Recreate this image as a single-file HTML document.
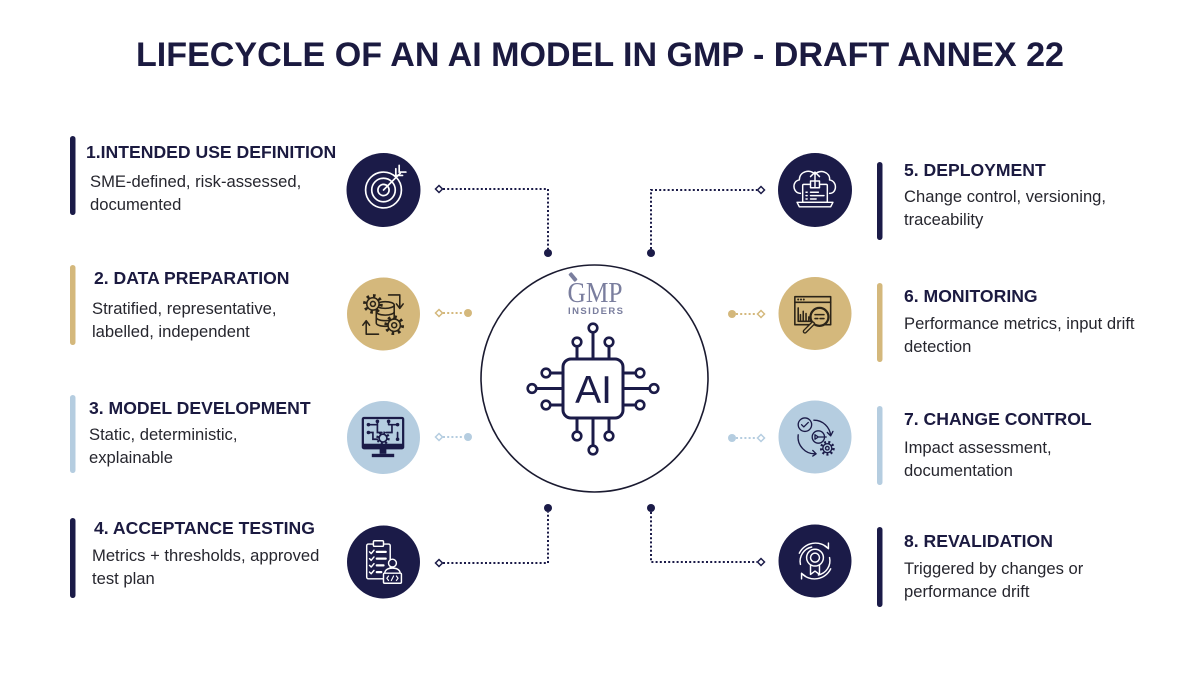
<!DOCTYPE html>
<html><head><meta charset="utf-8"><style>
html,body{margin:0;padding:0;background:#fff;}
svg{display:block;}
text{font-family:"Liberation Sans",Arial,sans-serif;}
</style></head><body>
<svg width="1200" height="675" viewBox="0 0 1200 675" xmlns="http://www.w3.org/2000/svg">
<rect width="1200" height="675" fill="#fff"/>
<text x="600" y="66" text-anchor="middle" font-size="34" font-weight="bold" fill="#1b1a40" textLength="928" lengthAdjust="spacingAndGlyphs">LIFECYCLE OF AN AI MODEL IN GMP - DRAFT ANNEX 22</text>

<!-- Left bars -->
<rect x="70" y="136" width="5.5" height="79" rx="2.75" fill="#1b1b48"/>
<rect x="70" y="265" width="5.5" height="80" rx="2.75" fill="#d4b87c"/>
<rect x="70" y="395" width="5.5" height="78" rx="2.75" fill="#b5cde0"/>
<rect x="70" y="518" width="5.5" height="80" rx="2.75" fill="#1b1b48"/>
<!-- Right bars -->
<rect x="877" y="162" width="5.5" height="78" rx="2.75" fill="#1b1b48"/>
<rect x="877" y="283" width="5.5" height="79" rx="2.75" fill="#d4b87c"/>
<rect x="877" y="406" width="5.5" height="79" rx="2.75" fill="#b5cde0"/>
<rect x="877" y="527" width="5.5" height="80" rx="2.75" fill="#1b1b48"/>

<!-- Texts -->
<g font-size="17.6" font-weight="bold" fill="#1b1a40">
<text x="86" y="158">1.INTENDED USE DEFINITION</text>
<text x="94" y="284">2. DATA PREPARATION</text>
<text x="89" y="414">3. MODEL DEVELOPMENT</text>
<text x="94" y="534">4. ACCEPTANCE TESTING</text>
<text x="904" y="176">5. DEPLOYMENT</text>
<text x="904" y="302">6. MONITORING</text>
<text x="904" y="425">7. CHANGE CONTROL</text>
<text x="904" y="547">8. REVALIDATION</text>
</g>
<g font-size="16.6" fill="#26262e">
<text x="90" y="187">SME-defined, risk-assessed,</text>
<text x="90" y="210">documented</text>
<text x="92" y="314">Stratified, representative,</text>
<text x="92" y="337">labelled, independent</text>
<text x="89" y="440">Static, deterministic,</text>
<text x="89" y="463">explainable</text>
<text x="92" y="561">Metrics + thresholds, approved</text>
<text x="92" y="584">test plan</text>
<text x="904" y="202">Change control, versioning,</text>
<text x="904" y="225">traceability</text>
<text x="904" y="329">Performance metrics, input drift</text>
<text x="904" y="352">detection</text>
<text x="904" y="453">Impact assessment,</text>
<text x="904" y="476">documentation</text>
<text x="904" y="574">Triggered by changes or</text>
<text x="904" y="597">performance drift</text>
</g>

<!-- Icon circles -->
<circle cx="383.5" cy="190" r="37" fill="#1b1b48"/>
<circle cx="383.5" cy="314" r="36.5" fill="#d4b87c"/>
<circle cx="383.5" cy="437.5" r="36.5" fill="#b5cde0"/>
<circle cx="383.5" cy="562" r="36.5" fill="#1b1b48"/>
<circle cx="815" cy="190" r="37" fill="#1b1b48"/>
<circle cx="815" cy="313.5" r="36.5" fill="#d4b87c"/>
<circle cx="815" cy="437" r="36.5" fill="#b5cde0"/>
<circle cx="815" cy="561" r="36.5" fill="#1b1b48"/>

<!-- Icon 1 target -->
<g transform="translate(383.5,190) scale(1.12)" fill="none" stroke="#fff" stroke-width="1.5" stroke-linecap="round">
<circle r="16"/><circle r="10.5"/><circle r="5"/>
<path d="M0 0 L15 -15"/>
<path d="M11 -19 L11 -13 L17 -13 M14 -22 L14 -16 L20 -16"/>
</g>

<!-- Icon 2 data prep -->
<g transform="translate(383,314) scale(1.12)" fill="none" stroke="#2b2418" stroke-width="1.4" stroke-linecap="round" stroke-linejoin="round">
<path d="M-6 -8 V8 A8 3 0 0 0 10 8 V-8" fill="#d4b87c"/>
<ellipse cx="2" cy="-8" rx="8" ry="3" fill="#d4b87c"/>
<path d="M-6 -2 A8 3 0 0 0 10 -2 M-6 3 A8 3 0 0 0 10 3"/>
<circle cx="-9" cy="-9" r="5.5" fill="#d4b87c"/>
<circle cx="-9" cy="-9" r="7.3" stroke-width="3" stroke-dasharray="2.3 3.4" stroke-linecap="butt"/>
<circle cx="-9" cy="-9" r="2.2"/>
<circle cx="10" cy="10" r="5.5" fill="#d4b87c"/>
<circle cx="10" cy="10" r="7.3" stroke-width="3" stroke-dasharray="2.3 3.4" stroke-linecap="butt"/>
<circle cx="10" cy="10" r="2.2"/>
<path d="M5 -17 H15 V-6 M12 -9 L15 -5 L18 -9"/>
<path d="M-4 18 H-15 V7 M-18 10 L-15 6 L-12 10"/>
</g>

<!-- Icon 3 model dev -->
<g transform="translate(383,437) scale(1.12)" fill="none" stroke="#1b1b48" stroke-width="1.5" stroke-linecap="round">
<rect x="-18" y="-17" width="36" height="27" rx="1" stroke-width="2"/>
<rect x="-18" y="6" width="36" height="4.5" fill="#1b1b48" stroke="none"/>
<rect x="-3" y="10" width="6" height="5" fill="#1b1b48" stroke="none"/>
<rect x="-10" y="15" width="20" height="3" fill="#1b1b48" stroke="none"/>
<path d="M-13 -11 H-5 V-4 H-1 M-13 -4 H-9 V2 H-5 M5 -11 H13 M8 -11 V-4 H3 M13 -4 V2 M-5 -11 V-14 M5 -11 V-14"/>
<g fill="#1b1b48" stroke="none">
<circle cx="-5" cy="-14" r="1.6"/><circle cx="5" cy="-14" r="1.6"/><circle cx="-13" cy="-11" r="1.6"/><circle cx="13" cy="-11" r="1.6"/><circle cx="-13" cy="-4" r="1.6"/><circle cx="13" cy="2" r="1.6"/>
</g>
<circle cx="0" cy="1" r="3.5" fill="#b5cde0"/>
<circle cx="0" cy="1" r="4.8" stroke-width="2.4" stroke-dasharray="1.8 2" stroke-linecap="butt"/>
</g>

<!-- Icon 4 acceptance testing -->
<g transform="translate(383.5,562) scale(1.12)" fill="none" stroke="#fff" stroke-width="1.3" stroke-linecap="round" stroke-linejoin="round">
<rect x="-15" y="-16" width="21" height="31" rx="1.5"/>
<rect x="-9" y="-19" width="9" height="5" rx="1" fill="#1b1b48"/>
<path d="M-12.5 -9 L-11 -7.5 L-8.5 -10.5 M-12.5 -3 L-11 -1.5 L-8.5 -4.5 M-12.5 3 L-11 4.5 L-8.5 1.5 M-12.5 9 L-11 10.5 L-8.5 7.5"/>
<path d="M-6 -9 H2 M-6 -3 H2 M-6 3 H0 M-6 9 H-2" stroke-width="2"/>
<path d="M1 11 Q1 5.5 8 5.5 Q15 5.5 15 11" fill="#1b1b48"/>
<circle cx="8" cy="1" r="3.5" fill="#1b1b48"/>
<rect x="0" y="10" width="16" height="9" rx="1" fill="#1b1b48"/>
<path d="M4.5 12.5 L3 14.5 L4.5 16.5 M11.5 12.5 L13 14.5 L11.5 16.5 M9 12.5 L7 16.5" stroke-width="1"/>
</g>

<!-- Icon 5 deployment -->
<g transform="translate(815,190) scale(1.12)" fill="none" stroke="#fff" stroke-width="1.3" stroke-linecap="round" stroke-linejoin="round">
<path d="M-13 3 C-20 3 -21 -8 -14 -9 C-14 -17 -4 -19 0 -14 C4 -19 14 -16 13 -9 C20 -8 20 3 13 3"/>
<rect x="-11" y="-5" width="22" height="16" rx="1" fill="#1b1b48"/>
<path d="M-16 11 H16 L14 15 H-14 Z" fill="#1b1b48"/>
<rect x="-4" y="-8" width="8" height="6" fill="#1b1b48"/>
<path d="M0 -3 V-16 M-4 -12 L0 -16 L4 -12"/>
<path d="M-8 2 H-7 M-4 2 H3 M-8 5 H-7 M-4 5 H8 M-8 8 H-7 M-4 8 H1"/>
</g>

<!-- Icon 6 monitoring -->
<g transform="translate(815,313.5) scale(1.12)" fill="none" stroke="#2b2418" stroke-width="1.4" stroke-linecap="round" stroke-linejoin="round">
<rect x="-18" y="-15" width="32" height="25"/>
<path d="M-18 -10 H14"/>
<g fill="#2b2418" stroke="none"><circle cx="-15" cy="-12.5" r="0.9"/><circle cx="-12.5" cy="-12.5" r="0.9"/><circle cx="-10" cy="-12.5" r="0.9"/></g>
<path d="M-15 -5 V7 H-3 M-13 6 V1 M-10.5 6 V-2 M-8 6 V0 M-5.5 6 V3"/>
<circle cx="4" cy="3" r="8" fill="#d4b87c" stroke-width="2"/>
<path d="M0 1 H8 M0 4.5 H2.5 M4.5 4.5 H8"/>
<path d="M-2 9 L-9 16" stroke-width="4"/>
<path d="M-2 9 L-9 16" stroke-width="1.6" stroke="#d4b87c"/>
</g>

<!-- Icon 7 change control -->
<g transform="translate(815,437) scale(1.12)" fill="none" stroke="#1b1b48" stroke-width="1.2" stroke-linecap="round" stroke-linejoin="round">
<circle cx="-9" cy="-11" r="6"/>
<path d="M-12 -11 L-10 -9 L-6 -13"/>
<path d="M-1 -15 A15 15 0 0 1 14 -1 M11 -4 L14 -1 L16 -5"/>
<path d="M-15 -2 A15 15 0 0 0 1 15 M-2 12 L1 15 L-2 17"/>
<circle cx="3" cy="0" r="5.5"/>
<path d="M0 -2 V2 L3 0 Z M3 0 H10"/>
<circle cx="11" cy="10" r="4" fill="#b5cde0"/>
<circle cx="11" cy="10" r="5.5" stroke-width="2.2" stroke-dasharray="1.8 2" stroke-linecap="butt"/>
<circle cx="11" cy="10" r="1.6"/>
</g>

<!-- Icon 8 revalidation -->
<g transform="translate(815,561) scale(1.12)" fill="none" stroke="#fff" stroke-width="1.3" stroke-linecap="round" stroke-linejoin="round">
<path d="M-14 -7 A16 16 0 0 1 12 -11 M8 -14 L12 -11 L12 -16"/>
<path d="M14 7 A16 16 0 0 1 -12 11 M-8 14 L-12 11 L-12 16"/>
<path d="M-13 3 A13 13 0 0 1 -3 -12.5 M13 -3 A13 13 0 0 1 3 12.5"/>
<circle cx="0" cy="-3" r="7.5"/>
<circle cx="0" cy="-3" r="4"/>
<path d="M-4 3.5 V12 L0 9 L4 12 V3.5"/>
</g>

<!-- Connectors -->
<g fill="none" stroke-width="2" stroke-dasharray="2 2.2">
<path d="M443 189 H548 V249" stroke="#1b1b48"/>
<path d="M443 563 H548 V512" stroke="#1b1b48"/>
<path d="M651 249 V190 H757" stroke="#1b1b48"/>
<path d="M651 512 V562 H757" stroke="#1b1b48"/>
<path d="M443 313 H464" stroke="#d4b87c"/>
<path d="M443 437 H464" stroke="#b5cde0"/>
<path d="M736 314 H757" stroke="#d4b87c"/>
<path d="M736 438 H757" stroke="#b5cde0"/>
</g>
<g>
<circle cx="548" cy="253" r="4" fill="#1b1b48"/>
<circle cx="548" cy="508" r="4" fill="#1b1b48"/>
<circle cx="651" cy="253" r="4" fill="#1b1b48"/>
<circle cx="651" cy="508" r="4" fill="#1b1b48"/>
<circle cx="468" cy="313" r="4" fill="#d4b87c"/>
<circle cx="468" cy="437" r="4" fill="#b5cde0"/>
<circle cx="732" cy="314" r="4" fill="#d4b87c"/>
<circle cx="732" cy="438" r="4" fill="#b5cde0"/>
</g>
<g fill="#fff" stroke-width="1.5">
<polygon points="439,185.5 442.5,189 439,192.5 435.5,189" stroke="#1b1b48"/>
<polygon points="439,559.5 442.5,563 439,566.5 435.5,563" stroke="#1b1b48"/>
<polygon points="761,186.5 764.5,190 761,193.5 757.5,190" stroke="#1b1b48"/>
<polygon points="761,558.5 764.5,562 761,565.5 757.5,562" stroke="#1b1b48"/>
<polygon points="439,309.5 442.5,313 439,316.5 435.5,313" stroke="#d4b87c"/>
<polygon points="439,433.5 442.5,437 439,440.5 435.5,437" stroke="#b5cde0"/>
<polygon points="761,310.5 764.5,314 761,317.5 757.5,314" stroke="#d4b87c"/>
<polygon points="761,434.5 764.5,438 761,441.5 757.5,438" stroke="#b5cde0"/>
</g>

<!-- Center circle -->
<circle cx="594.5" cy="378.5" r="113.5" fill="#fff" stroke="#1a1a30" stroke-width="1.6"/>

<!-- GMP logo -->
<g fill="#7a7e9e">
<rect x="571" y="272" width="4" height="10" rx="1" transform="rotate(-40 573 277)"/>
<text x="595" y="302" text-anchor="middle" font-size="28" textLength="55" lengthAdjust="spacingAndGlyphs" style="font-family:'Liberation Serif',serif">GMP</text>
<text x="595.5" y="314" text-anchor="middle" font-size="9.5" font-weight="bold" textLength="55" lengthAdjust="spacing">INSIDERS</text>
</g>

<!-- AI chip -->
<g fill="none" stroke="#1b1b48" stroke-width="3" stroke-linecap="round">
<rect x="563" y="359" width="60" height="59" rx="8"/>
<path d="M593 359 V332 M577 359 V346 M609 359 V346"/>
<path d="M593 418 V446 M577 418 V432 M609 418 V432"/>
<path d="M563 388.5 H536 M563 373 H550 M563 405 H550"/>
<path d="M623 388.5 H650 M623 373 H636 M623 405 H636"/>
</g>
<g fill="#fff" stroke="#1b1b48" stroke-width="2.6">
<circle cx="593" cy="328" r="4.3"/><circle cx="577" cy="342" r="4.3"/><circle cx="609" cy="342" r="4.3"/>
<circle cx="593" cy="450" r="4.3"/><circle cx="577" cy="436" r="4.3"/><circle cx="609" cy="436" r="4.3"/>
<circle cx="532" cy="388.5" r="4.3"/><circle cx="546" cy="373" r="4.3"/><circle cx="546" cy="405" r="4.3"/>
<circle cx="654" cy="388.5" r="4.3"/><circle cx="640" cy="373" r="4.3"/><circle cx="640" cy="405" r="4.3"/>
</g>
<text x="593.5" y="403" text-anchor="middle" font-size="39" fill="#1b1b48">AI</text>
</svg>
</body></html>
